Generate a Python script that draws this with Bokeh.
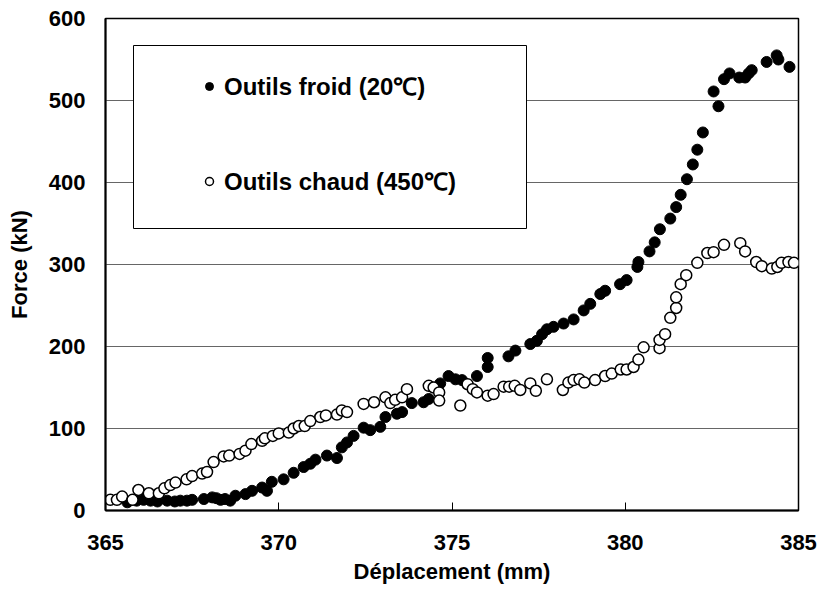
from bokeh.plotting import figure
from bokeh.models import Legend, LegendItem, FixedTicker, Range1d, BoxAnnotation
from bokeh.embed import file_html
from bokeh.resources import INLINE

# Outils froid (20 °C) - filled markers
cold_x = [365.63, 365.9, 366.1, 366.3, 366.5, 366.78, 367.0, 367.16, 367.35, 367.5, 367.84, 368.08,
          368.2, 368.32, 368.45, 368.6, 368.75, 369.04, 369.23, 369.52, 369.66, 369.8, 370.14, 370.43,
          370.72, 370.91, 371.06, 371.39, 371.68, 371.82, 371.97, 372.16, 372.45, 372.64, 372.93, 373.08,
          373.41, 373.56, 373.84, 374.18, 374.33, 374.66, 374.9, 375.1, 375.29, 375.72, 376.03, 376.03,
          376.63, 376.83, 377.26, 377.45, 377.6, 377.74, 377.93, 378.22, 378.51, 378.8, 378.99, 379.28,
          379.42, 379.85, 380.04, 380.35, 380.38, 380.7, 380.85, 381.0, 381.3, 381.47, 381.6, 381.78,
          381.95, 382.08, 382.24, 382.55, 382.69, 382.85, 383.01, 383.29, 383.46, 383.56, 383.65, 384.08,
          384.37, 384.42, 384.74]
cold_y = [10, 12, 13, 12, 11, 12, 11, 12, 12, 13, 14, 16,
          15, 13, 14, 12, 18, 20, 24, 28, 24, 35, 38, 46,
          53, 57, 62, 67, 64, 77, 83, 91, 101, 98, 102, 114,
          118, 120, 131, 132, 136, 155, 164, 160, 159, 164, 175, 186,
          188, 195, 203, 207, 215, 221, 224, 228, 233, 244, 252, 264,
          268, 276, 281, 297, 303, 316, 327, 343, 356, 370, 385, 404,
          422, 440, 461, 511, 493, 526, 533, 528, 528, 533, 537, 547,
          555, 550, 541]

# Outils chaud (450 °C) - open markers
hot_x = [365.14, 365.33, 365.48, 365.78, 365.95, 366.25, 366.54, 366.7, 366.87, 367.02, 367.34, 367.5,
         367.79, 367.93, 368.12, 368.41, 368.57, 368.87, 369.04, 369.21, 369.52, 369.6, 369.83, 370.0,
         370.29, 370.43, 370.58, 370.75, 370.91, 371.2, 371.36, 371.68, 371.82, 371.97, 372.45, 372.75,
         373.08, 373.22, 373.36, 373.56, 373.7, 374.33, 374.47, 374.63, 374.63, 375.24, 375.45, 375.6,
         375.72, 376.03, 376.2, 376.49, 376.65, 376.81, 376.97, 377.26, 377.42, 377.74, 378.2, 378.36,
         378.51, 378.68, 378.82, 379.13, 379.42, 379.61, 379.87, 380.04, 380.24, 380.38, 380.53, 380.99,
         380.99, 381.15, 381.3, 381.47, 381.47, 381.6, 381.76, 382.08, 382.37, 382.55, 382.85, 383.32,
         383.46, 383.78, 383.94, 384.23, 384.39, 384.51, 384.71, 384.87]
hot_y = [13, 13, 17, 13, 25, 21, 21, 27, 31, 34, 38, 42,
         45, 47, 59, 66, 67, 69, 73, 81, 85, 88, 91, 94,
         95, 100, 103, 103, 109, 114, 116, 117, 122, 120, 130, 132,
         138, 131, 135, 138, 148, 152, 150, 144, 134, 128, 154, 148,
         144, 140, 142, 151, 151, 152, 147, 155, 146, 160, 147, 156,
         159, 160, 156, 159, 164, 167, 172, 172, 175, 184, 199, 198,
         208, 215, 235, 247, 260, 276, 287, 302, 314, 315, 324, 326,
         316, 303, 298, 295, 297, 302, 303, 302]

x_ticks = [365, 370, 375, 380, 385]
y_ticks = [0, 100, 200, 300, 400, 500, 600]
labels = ["Outils froid (20℃)", "Outils chaud (450℃)"]

FONT = "Liberation Sans"

p = figure(width=820, height=592, x_range=Range1d(365, 385), y_range=Range1d(0, 600),
           output_backend="svg", toolbar_location=None,
           min_border_left=105, min_border_right=22, min_border_top=18, min_border_bottom=82,
           background_fill_color="white", border_fill_color="white")

p.xaxis.ticker = FixedTicker(ticks=x_ticks)
p.yaxis.ticker = FixedTicker(ticks=y_ticks)
p.xaxis.axis_label = "Déplacement (mm)"
p.yaxis.axis_label = "Force (kN)"
for ax in (p.xaxis, p.yaxis):
    ax.axis_line_color = "black"
    ax.axis_line_width = 2
    ax.major_tick_line_color = "black"
    ax.major_tick_line_width = 1
    ax.minor_tick_line_color = None
    ax.major_label_text_font = FONT
    ax.major_label_text_font_style = "bold"
    ax.major_label_text_font_size = "22px"
    ax.major_label_text_color = "black"
    ax.axis_label_text_font = FONT
    ax.axis_label_text_font_style = "bold"
    ax.axis_label_text_font_size = "22px"
    ax.axis_label_text_color = "black"
p.xaxis.major_tick_in = 8
p.xaxis.major_tick_out = 0
p.yaxis.major_tick_in = 0
p.yaxis.major_tick_out = 0
p.xaxis.major_label_standoff = 24
p.xaxis.axis_label_standoff = 6
p.yaxis.major_label_standoff = 20
p.yaxis.axis_label_standoff = 14

p.xgrid.grid_line_color = None
p.ygrid.grid_line_color = "#666666"
p.ygrid.grid_line_width = 1
p.outline_line_color = "black"
p.outline_line_width = 1.5

r_cold = p.scatter(cold_x, cold_y, marker="circle", size=11,
                   fill_color="black", line_color="black", line_width=1)
r_hot = p.scatter(hot_x, hot_y, marker="circle", size=11,
                  fill_color="white", line_color="black", line_width=1.5)

# legend frame (white box with black border)
legend_box = BoxAnnotation(left=133, right=526, top=45, bottom=228,
                           left_units="canvas", right_units="canvas",
                           top_units="canvas", bottom_units="canvas",
                           fill_color="white", fill_alpha=1,
                           line_color="black", line_width=1, line_alpha=1)
p.add_layout(legend_box)

legend = Legend(items=[LegendItem(label=labels[0], renderers=[r_cold]),
                       LegendItem(label=labels[1], renderers=[r_hot])],
                location=(94, 313), margin=0, padding=0, spacing=62,
                glyph_width=20, glyph_height=20, label_height=28,
                label_standoff=5,
                label_text_font=FONT, label_text_font_style="bold",
                label_text_font_size="24px", label_text_color="black",
                border_line_color=None, background_fill_alpha=0)
p.add_layout(legend)

open("out.html", "w").write(file_html(p, INLINE))
